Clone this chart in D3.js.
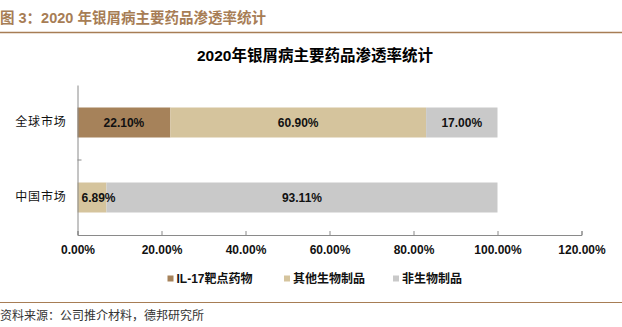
<!DOCTYPE html>
<html><head><meta charset="utf-8">
<script src="https://cdn.jsdelivr.net/npm/d3@7"></script>
<style>
body{margin:0;background:#fff;}
svg{display:block;}
</style></head>
<body>
<svg id="c" width="622" height="327"></svg>
<script>
const categories = ["全球市场", "中国市场"];
const seriesNames = ["IL-17靶点药物", "其他生物制品", "非生物制品"];
const il17 = [0.221, 0];
const otherBio = [0.609, 0.0689];
const nonBio = [0.17, 0.9311];
const xTicks = [0, 0.2, 0.4, 0.6, 0.8, 1.0, 1.2];
const colors = ["#a6825a", "#d5c49d", "#c9c9c9"];
const headerText = "图 3：2020 年银屑病主要药品渗透率统计";
const titleText = "2020年银屑病主要药品渗透率统计";
const sourceText = "资料来源：公司推介材料，德邦研究所";

const svg = d3.select("#c");
const cjk = "'Noto Sans CJK SC', sans-serif";
const latin = "'Liberation Sans', Arial, 'Noto Sans CJK SC', sans-serif";
const brown = "#a77d55";

// header
svg.append("text").attr("x", 0).attr("y", 23).attr("fill", brown)
  .attr("font-family", latin).attr("font-weight", "bold").attr("font-size", 14.5)
  .text(headerText);
svg.append("line").attr("x1", 0).attr("x2", 622).attr("y1", 32.5).attr("y2", 32.5)
  .attr("stroke", brown).attr("stroke-width", 1.6);

// title
svg.append("text").attr("x", 315).attr("y", 60.5).attr("text-anchor", "middle")
  .attr("font-family", latin).attr("font-weight", "bold").attr("font-size", 15.5).attr("fill", "#000")
  .text(titleText);

const x = d3.scaleLinear().domain([0, 1.2]).range([77.5, 581.5]);
const y = d3.scaleBand().domain(categories).range([85, 235]).paddingInner(0.6).paddingOuter(0.3);

// stacked data
const rows = categories.map((c, i) => ({cat: c, s0: il17[i], s1: otherBio[i], s2: nonBio[i]}));
const stack = d3.stack().keys(["s0", "s1", "s2"])(rows);

const g = svg.append("g");
stack.forEach((layer, li) => {
  layer.forEach(d => {
    const w = x(d[1]) - x(d[0]);
    if (w <= 0) return;
    g.append("rect").attr("x", x(d[0])).attr("y", y(d.data.cat))
      .attr("width", w).attr("height", y.bandwidth()).attr("fill", colors[li]);
  });
});
// labels
stack.forEach((layer, li) => {
  layer.forEach(d => {
    const v = d[1] - d[0];
    if (v <= 0) return;
    const label = (v * 100).toFixed(2) + "%";
    const t = g.append("text").attr("y", y(d.data.cat) + y.bandwidth() / 2).attr("dy", "0.35em")
      .attr("text-anchor", "middle").attr("font-family", latin).attr("font-weight", "bold")
      .attr("font-size", 12).attr("fill", "#111").text(label);
    const tw = t.node().getComputedTextLength();
    const cx = Math.max((x(d[0]) + x(d[1])) / 2, x(d[0]) + tw / 2 + 4);
    t.attr("x", cx);
  });
});

// x axis
const xAxis = d3.axisBottom(x).tickValues(xTicks)
  .tickFormat(d => (d * 100).toFixed(2) + "%").tickSizeInner(-4).tickSizeOuter(-4).tickPadding(10);
const gx = svg.append("g").attr("transform", "translate(0,235)").call(xAxis);
gx.select(".domain").attr("stroke", "#8a8a8a");
gx.selectAll(".tick line").attr("stroke", "#8a8a8a");
gx.selectAll("text").attr("font-family", latin).attr("font-weight", "bold").attr("font-size", 12).attr("fill", "#111");

// y axis
const yAxis = d3.axisLeft(y).tickSize(0).tickPadding(11);
const gy = svg.append("g").attr("transform", "translate(77.5,0)").call(yAxis);
gy.select(".domain").attr("stroke", "#8a8a8a");
gy.selectAll("text").attr("font-family", cjk).attr("font-size", 12).attr("fill", "#111")
  .attr("letter-spacing", 0.8);
// category boundary tick
const mid = (y(categories[0]) + y.bandwidth() + y(categories[1])) / 2;
svg.append("line").attr("x1", x(0)).attr("x2", x(0) + 4).attr("y1", mid).attr("y2", mid).attr("stroke", "#8a8a8a");

// legend
const legendX = [167.5, 284, 393];
seriesNames.forEach((n, i) => {
  const lg = svg.append("g").attr("transform", `translate(${legendX[i]},279)`);
  lg.append("rect").attr("x", 0).attr("y", -3.5).attr("width", 6).attr("height", 6).attr("fill", colors[i]);
  lg.append("text").attr("x", 9).attr("dy", "0.35em").attr("font-family", latin)
    .attr("font-weight", "bold").attr("font-size", 12).attr("fill", "#111").text(n);
});

// bottom rule & source
svg.append("line").attr("x1", 0).attr("x2", 622).attr("y1", 302.5).attr("y2", 302.5)
  .attr("stroke", brown).attr("stroke-width", 1.2);
svg.append("text").attr("x", 0).attr("y", 320).attr("font-family", cjk).attr("font-size", 12)
  .attr("fill", "#333").text(sourceText);
</script>
</body></html>
